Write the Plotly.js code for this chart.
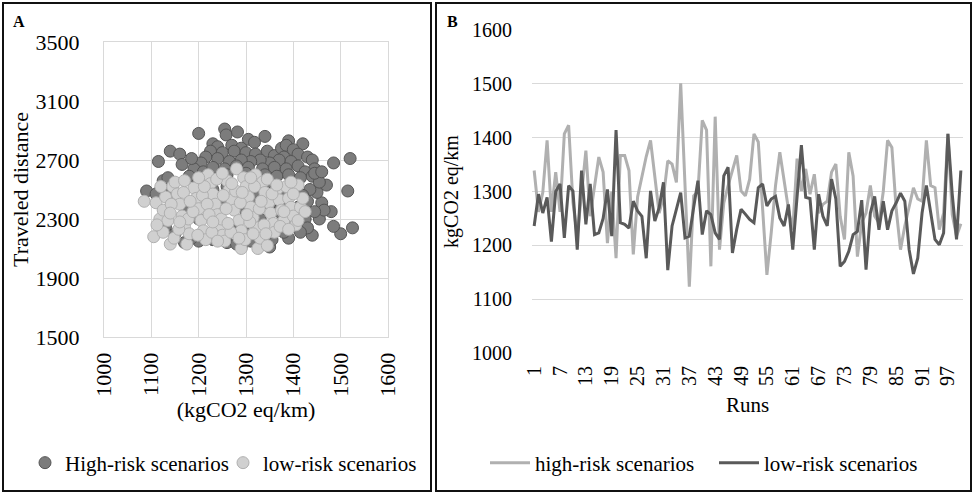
<!DOCTYPE html>
<html>
<head>
<meta charset="utf-8">
<script src="https://cdn.plot.ly/plotly-3.0.1.min.js"></script>
<style>html,body{margin:0;padding:0;background:#fff}#chart{width:974px;height:493px}</style>
</head>
<body>
<div id="chart"></div>
<script>
// ---------- Panel A: scatter (kgCO2 eq/km vs traveled distance) ----------
const highX = [1200,1255,1258,1282,1340,1305,1318,1390,1420,1230,
1240,1270,1290,1225,1250,1275,1300,1320,1345,1360,
1375,1385,1400,1410,1430,1440,1445,1380,1395,1370,
1350,1330,1310,1290,1265,1240,1215,1205,1190,1210,
1230,1255,1280,1305,1335,1360,1385,1410,1425,1440,
1140,1160,1165,1185,1115,1090,1125,1135,1145,1180,
1200,1225,1260,1300,1340,1365,1390,1415,1485,1520,
1515,1525,1500,1485,1455,1440,1470,1480,1460,1450,
1465,1445,1430,1435,1455,1420,1410,1425,1430,1415,
1400,1390,1380,1395,1405,1375,1370,1365,1385,1360,
1350,1345,1445,1460,1350,1290,1170,1200,1230,1260,
1280,1310,1335,1355,1340,1185,1150,1130,1120,1110,
1250,1300,1200,1280,1320,1230,1170,1330,1260,1300,
1240,1350];
const highY = [2880,2910,2870,2890,2860,2840,2820,2830,2810,2810,
2790,2800,2780,2760,2750,2760,2750,2740,2760,2730,
2780,2800,2770,2740,2720,2700,2640,2720,2690,2700,
2680,2700,2690,2700,2690,2710,2720,2680,2640,2620,
2650,2640,2660,2650,2640,2650,2640,2660,2620,2590,
2760,2740,2670,2710,2690,2490,2560,2580,2480,2590,
2560,2580,2600,2610,2600,2590,2600,2580,2680,2710,
2490,2240,2200,2250,2300,2190,2530,2350,2410,2480,
2360,2350,2420,2500,2550,2460,2380,2300,2240,2210,
2260,2170,2210,2330,2520,2480,2350,2260,2400,2430,
2520,2550,2610,2620,2110,2110,2140,2150,2160,2140,
2130,2150,2130,2160,2190,2170,2200,2250,2500,2470,
2400,2350,2300,2250,2450,2500,2380,2300,2520,2200,
2200,2400];
const lowX = [1085,1105,1110,1118,1125,1130,1140,1145,1150,1155,
1160,1165,1170,1175,1180,1190,1195,1200,1205,1210,
1215,1220,1225,1230,1235,1240,1245,1250,1255,1260,
1265,1270,1275,1280,1285,1290,1290,1295,1300,1305,
1310,1315,1320,1325,1325,1330,1335,1340,1345,1348,
1352,1358,1360,1365,1370,1375,1380,1385,1390,1395,
1400,1405,1410,1410,1415,1420,1425,1125,1135,1148,
1158,1168,1178,1188,1198,1208,1218,1228,1238,1248,
1258,1268,1278,1288,1298,1308,1318,1328,1338,1222,
1262,1302,1342,1182,1142,1212,1252,1292,1332,1372,
1120,1160,1240,1285,1315,1355,1390,1250,1200,1170,
1140,1112,1230,1270,1310,1345,1365,1380,1400,1395];
const lowY = [2420,2180,2410,2300,2360,2450,2130,2520,2550,2470,
2400,2320,2250,2130,2200,2510,2440,2370,2290,2220,
2160,2600,2540,2470,2400,2330,2260,2190,2150,2560,
2500,2430,2360,2640,2290,2100,2220,2580,2520,2450,
2380,2310,2600,2100,2240,2170,2550,2480,2120,2410,
2340,2270,2210,2500,2430,2360,2290,2520,2440,2380,
2320,2260,2530,2290,2380,2440,2350,2210,2290,2170,
2230,2480,2300,2350,2190,2460,2400,2210,2570,2300,
2370,2210,2490,2410,2160,2280,2520,2370,2260,2330,
2270,2330,2200,2420,2400,2520,2460,2480,2420,2250,
2520,2280,2150,2170,2200,2470,2230,2610,2580,2560,
2340,2260,2280,2540,2580,2570,2530,2350,2470,2550];

// ---------- Panel B: line chart over 100 runs ----------
const runs = Array.from({length: 100}, (_, i) => i + 1);
const runTicks = [1,7,13,19,25,31,37,43,49,55,61,67,73,79,85,91,97];
const highRisk = [1339,1262,1298,1395,1262,1336,1262,1407,1423,1280,
1217,1300,1376,1254,1310,1364,1336,1204,1300,1176,
1367,1367,1339,1183,1290,1330,1365,1395,1330,1260,
1290,1357,1351,1317,1501,1320,1123,1292,1300,1432,
1414,1161,1439,1192,1279,1311,1340,1367,1301,1292,
1323,1407,1392,1260,1145,1223,1311,1373,1323,1267,
1229,1361,1301,1342,1295,1332,1260,1276,1282,1336,
1351,1254,1211,1373,1329,1179,1242,1260,1311,1254,
1242,1300,1395,1382,1267,1192,1236,1270,1307,1286,
1282,1395,1311,1307,1229,1260,1407,1257,1217,1240];
const lowRisk = [1236,1295,1260,1289,1207,1300,1314,1214,1311,1301,
1192,1339,1239,1314,1220,1223,1250,1304,1217,1414,
1242,1239,1232,1282,1264,1254,1176,1301,1245,1270,
1317,1154,1236,1270,1298,1214,1217,1270,1320,1220,
1264,1257,1223,1211,1329,1345,1186,1230,1267,1258,
1248,1242,1307,1314,1273,1286,1291,1251,1236,1276,
1192,1290,1386,1289,1287,1192,1295,1254,1236,1323,
1286,1161,1170,1189,1220,1226,1284,1155,1260,1291,
1229,1282,1229,1264,1279,1297,1282,1192,1147,1176,
1260,1311,1264,1211,1201,1223,1407,1295,1211,1339];

const FONT = 'Liberation Serif, Times New Roman, serif';
const W = 974, H = 493;
const px = v => v / W;
const py = v => (H - v) / H;
const f = (size) => ({family: FONT, size: size, color: '#000'});

const traces = [
  {type:'scatter', mode:'markers', x: highX, y: highY, name:'High-risk scenarios',
   xaxis:'x', yaxis:'y', legend:'legend',
   marker:{size:12, color:'#7c7c7c', line:{color:'#555555', width:1}}},
  {type:'scatter', mode:'markers', x: lowX, y: lowY, name:'low-risk scenarios',
   xaxis:'x', yaxis:'y', legend:'legend',
   marker:{size:12, color:'#d0d0d0', line:{color:'#b0b0b0', width:1}}},
  {type:'scatter', mode:'lines', x: runs, y: highRisk, name:'high-risk scenarios',
   xaxis:'x2', yaxis:'y2', legend:'legend2',
   line:{color:'#b0b0b0', width:3}},
  {type:'scatter', mode:'lines', x: runs, y: lowRisk, name:'low-risk scenarios',
   xaxis:'x2', yaxis:'y2', legend:'legend2',
   line:{color:'#5a5a5a', width:3}}
];

const grid = '#d9d9d9';
const layout = {
  width: W, height: H,
  margin: {l:0, r:0, t:0, b:0, autoexpand:false},
  paper_bgcolor:'#fff', plot_bgcolor:'#fff',
  font: f(21),
  hovermode: false,
  xaxis: {domain:[px(104), px(388)], range:[1000,1600], dtick:100, tick0:1000,
    tickangle:-90, showgrid:true, gridcolor:grid, zeroline:false,
    showline:true, linecolor:grid, mirror:true, ticks:'', ticklabelstandoff:6,
    tickfont: f(22),
    title:{text:'(kgCO2 eq/km)', standoff:4, font:f(22)}, anchor:'y', fixedrange:true},
  yaxis: {domain:[py(337), py(42)], range:[1500,3500], dtick:400, tick0:1500,
    showgrid:true, gridcolor:grid, zeroline:false,
    showline:true, linecolor:grid, mirror:true, ticks:'', ticklabelstandoff:19,
    tickfont: f(22),
    title:{text:'Traveled distance', standoff:0, font:f(22)}, anchor:'x', fixedrange:true},
  xaxis2: {domain:[px(532), px(963)], range:[0.5,100.5], tickvals: runTicks,
    ticktext: runTicks.map(String), tickangle:-90, showgrid:false, zeroline:false,
    showline:false, ticks:'', ticklabelstandoff:8, tickfont:f(20),
    title:{text:'Runs', standoff:12, font:f(21)}, anchor:'y2', fixedrange:true},
  yaxis2: {domain:[py(353), py(30)], range:[1000,1600], dtick:100, tick0:1000,
    showgrid:true, gridcolor:grid, zeroline:false, showline:false, ticks:'',
    ticklabelstandoff:19, tickfont:f(20),
    title:{text:'kgCO2 eq/km', standoff:8, font:f(20)}, anchor:'x2', fixedrange:true},
  legend: {orientation:'h', x: px(25), xanchor:'left', y: py(463), yanchor:'middle',
    font:f(21), bgcolor:'rgba(0,0,0,0)', itemwidth:30, entrywidth:153, entrywidthmode:'pixels'},
  legend2: {orientation:'h', x: px(485), xanchor:'left', y: py(463), yanchor:'middle',
    font:f(21), bgcolor:'rgba(0,0,0,0)', itemwidth:40, entrywidth:174, entrywidthmode:'pixels'},
  shapes: [
    {type:'rect', xref:'paper', yref:'paper', x0:px(3), x1:px(431), y0:py(491), y1:py(3),
     line:{color:'#111', width:2}},
    {type:'rect', xref:'paper', yref:'paper', x0:px(436), x1:px(971), y0:py(491), y1:py(3),
     line:{color:'#111', width:2}}
  ],
  annotations: [
    {text:'<b>A</b>', xref:'paper', yref:'paper', x:px(11), y:py(22), xanchor:'left', yanchor:'middle',
     showarrow:false, font:f(16)},
    {text:'<b>B</b>', xref:'paper', yref:'paper', x:px(445), y:py(22), xanchor:'left', yanchor:'middle',
     showarrow:false, font:f(16)}
  ]
};

Plotly.newPlot('chart', traces, layout, {displayModeBar:false, staticPlot:true});
</script>
</body>
</html>
